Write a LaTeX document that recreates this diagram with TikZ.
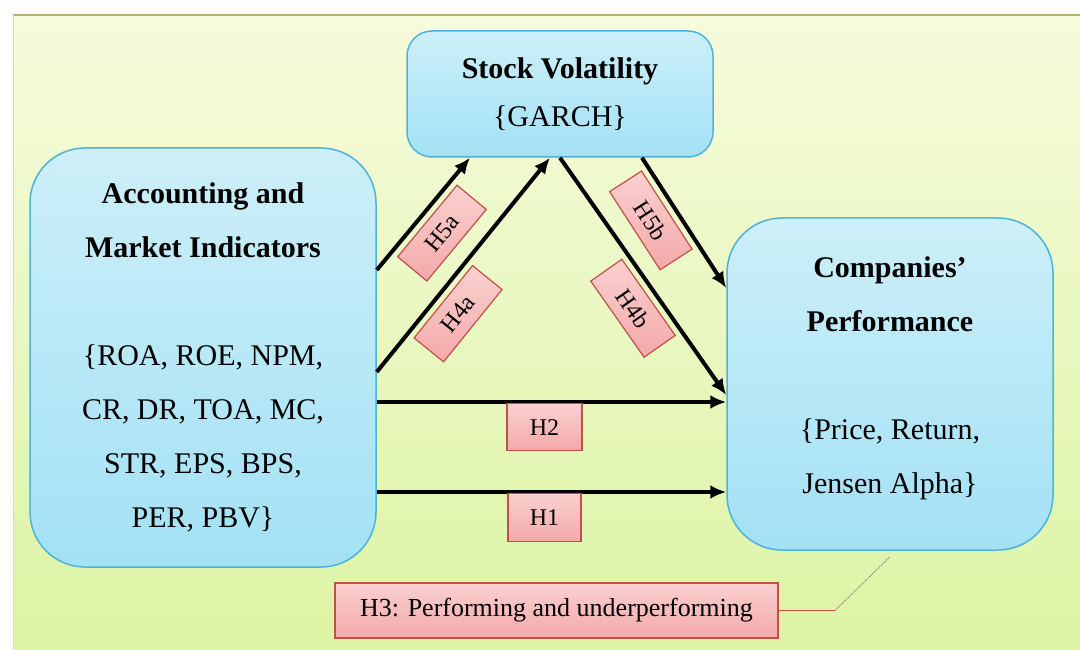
\documentclass[tikz,border=0pt]{standalone}
\usepackage{fontspec}
\IfFontExistsTF{LiberationSerif-Regular.ttf}
  {\setmainfont{LiberationSerif}[Extension=.ttf, UprightFont=*-Regular, BoldFont=*-Bold]}
  {\setmainfont{Liberation Serif}}
\usetikzlibrary{arrows.meta}
\definecolor{bgtop}{HTML}{F6FBDC}
\definecolor{bgbot}{HTML}{DCF4A4}
\definecolor{frameline}{HTML}{B4B46E}
\definecolor{boxtop}{HTML}{CDEFF8}
\definecolor{boxbot}{HTML}{A3E1F5}
\definecolor{boxline}{HTML}{4EB2DA}
\definecolor{hypotop}{HTML}{FAD0D0}
\definecolor{hypobot}{HTML}{F4A9A9}
\definecolor{hypoline}{HTML}{C0504D}
\begin{document}
\begin{tikzpicture}[x=1pt,y=-1pt,
  bigbox/.style={draw=boxline, line width=1.5pt, top color=boxtop, bottom color=boxbot,
    align=center, font=\rmfamily\fontsize{30}{54}\selectfont},
  hypo/.style={draw=hypoline, line width=1.2pt, top color=hypotop, bottom color=hypobot,
    inner sep=0pt, minimum width=93pt, minimum height=38pt, font=\rmfamily\fontsize{24}{24}\selectfont},
  link/.style={line width=4pt, -{Latex[length=16pt,width=14pt]}}]
\useasboundingbox (0,0) rectangle (1080,650);
\fill[white] (0,0) rectangle (1080,650);
% background panel
\shade[top color=bgtop, bottom color=bgbot] (13,15) rectangle (1080,650);
\draw[frameline, line width=1.5pt] (13,15) -- (1080,15);
\draw[frameline!50, line width=1pt] (13,15) -- (13,650);
% the three blocks
\node[bigbox, rounded corners=55pt, minimum width=346pt, minimum height=419pt] (acc) at (203,357.5)
  {\bfseries Accounting and\\ \bfseries Market Indicators\\[54pt]
   \{ROA, ROE, NPM,\\ CR, DR, TOA, MC,\\ STR, EPS, BPS,\\ PER, PBV\}};
\node[bigbox, rounded corners=25pt, minimum width=306pt, minimum height=126pt,
  font=\rmfamily\fontsize{30}{48}\selectfont] (vol) at (560,94)
  {\bfseries Stock Volatility\\ \{GARCH\}};
\node[bigbox, rounded corners=55pt, minimum width=326pt, minimum height=332pt, text depth=18pt] (perf) at (890,384)
  {\bfseries Companies'\\ \bfseries Performance\\[54pt]
   \{Price, Return,\\ Jensen Alpha\}};
% hypotheses
\draw[link] ([yshift=87.5pt]acc.east) -- node[hypo, sloped, below=7pt, pos=0.48] (h5a) {H5a} ([xshift=-90pt]vol.south);
\draw[link] ([yshift=-14.5pt]acc.east) -- node[hypo, sloped, below=7pt, pos=0.35] (h4a) {H4a} ([xshift=-10pt]vol.south);
\draw[link] (vol.south) -- node[hypo, sloped, below=7pt, pos=0.57] (h4b) {H4b} ([yshift=-11pt]perf.west);
\draw[link] ([xshift=82pt]vol.south) -- node[hypo, sloped, below=7pt, pos=0.37] (h5b) {H5b} ([yshift=96pt]perf.west);
\draw[link] ([yshift=-44.5pt]acc.east) -- node[hypo, below=1pt, pos=0.48, minimum width=75pt, minimum height=47pt] (h2) {H2} ([yshift=-18pt]perf.west);
\draw[link] ([yshift=-134.5pt]acc.east) -- node[hypo, below=1pt, pos=0.48, minimum width=73pt, minimum height=48pt] (h1) {H1} ([yshift=-108pt]perf.west);
% H3 callout
\node[hypo, minimum width=443pt, minimum height=55pt, font=\rmfamily\fontsize{26}{26}\selectfont] (h3) at (556.5,610.5)
  {H3: Performing and underperforming};
\coordinate (knee) at (835,610.5);
\draw[hypoline, line width=1pt] (h3.east) -- (knee);
\draw[gray, line width=1pt, densely dotted] (knee) -- ([yshift=-6pt]perf.south);
\end{tikzpicture}
\end{document}
